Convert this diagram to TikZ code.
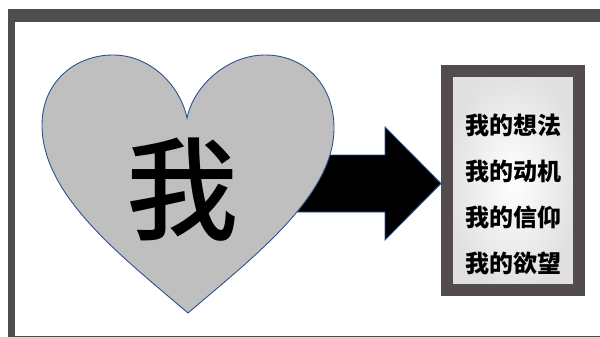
\documentclass[tikz,border=0pt]{standalone}
\usepackage{fontspec}
\newfontfamily\cjk{Noto Sans CJK SC}
\newfontfamily\cjkmid{Noto Sans CJK SC Medium}
\definecolor{FrameGray}{RGB}{77, 77, 77}
\definecolor{BoxGray}{RGB}{82, 76, 76}
\definecolor{HeartGray}{RGB}{191, 191, 191}
\definecolor{EdgeBlue}{RGB}{47, 82, 143}
\usetikzlibrary{positioning, shadings}

\begin{document}
\begin{tikzpicture}[x=1pt, y=-1pt, every node/.style={font=\cjk\bfseries}]
            \useasboundingbox (0,0) rectangle (600,337);
            \clip (0,0) rectangle (600,337);
            % frame
            \fill[FrameGray] (8,9) rectangle (620,350);
            \fill[white] (15,22) rectangle (620,336);

            % block arrow
            \filldraw[fill=black, draw=EdgeBlue, line width=0.8pt] (290,155) -- (385,155) -- (385,127) -- (441,183.5) -- (385,240) -- (385,212) -- (290,212) -- cycle;

            % heart
            \filldraw[fill=HeartGray, draw=EdgeBlue, line width=0.9pt] (188,313)
                .. controls (120,255) and (42,195) .. (42,125)
                .. controls (42,82) and (75,55) .. (113,55)
                .. controls (150,55) and (180,85) .. (187,118)
                .. controls (194,85) and (228,55) .. (265,55)
                .. controls (305,55) and (334,85) .. (334,128)
                .. controls (334,195) and (256,255) .. (188,313) -- cycle;
            \node[font=\cjkmid\fontsize{112}{112}\selectfont] (me) at (182,190) {我};

            % list box
            \node[draw=BoxGray, line width=12pt, inner color=white, outer color=black!12, minimum width=132pt, minimum height=219pt] (box) at (513,180.5) {};
            \node[font=\cjk\bfseries\fontsize{24}{24}\selectfont, minimum height=45.7pt, inner sep=0pt] (idea) at (513,125) {我的想法};
            \node[font=\cjk\bfseries\fontsize{24}{24}\selectfont, minimum height=45.7pt, inner sep=0pt, below=0pt of idea] (motive) {我的动机};
            \node[font=\cjk\bfseries\fontsize{24}{24}\selectfont, minimum height=45.7pt, inner sep=0pt, below=0pt of motive] (belief) {我的信仰};
            \node[font=\cjk\bfseries\fontsize{24}{24}\selectfont, minimum height=45.7pt, inner sep=0pt, below=0pt of belief] (desire) {我的欲望};
        \end{tikzpicture}
\end{document}
